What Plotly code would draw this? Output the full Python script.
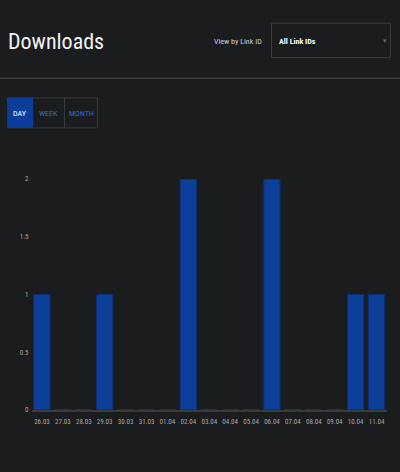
import plotly.graph_objects as go

categories = ["26.03", "27.03", "28.03", "29.03", "30.03", "31.03", "01.04", "02.04", "03.04",
              "04.04", "05.04", "06.04", "07.04", "08.04", "09.04", "10.04", "11.04"]
downloads = [1, 0, 0, 1, 0, 0, 0, 2, 0, 0, 0, 2, 0, 0, 0, 1, 1]
y_ticks = [0, 0.5, 1, 1.5, 2]
y_tick_labels = ["0", "0.5", "1", "1.5", "2"]
period_buttons = ["DAY", "WEEK", "MONTH"]

W, H = 400, 472
BG = "#1b1c1e"
BAR = "#0b3f99"
BAR_EDGE = "#0a2f70"
FONT = "Roboto Condensed, Liberation Sans Narrow, Arial Narrow, Roboto, sans-serif"

def px(x):
    return x / W

def py(y):
    return 1 - y / H

fig = go.Figure()

# minimal visible bar (baseline stub) like the source chart's min bar height
fig.add_trace(go.Bar(
    x=categories, y=[0.008] * len(categories), marker=dict(color=BAR, line=dict(width=0)),
    hoverinfo="skip", showlegend=False,
))
fig.add_trace(go.Bar(
    x=categories, y=downloads, marker=dict(color=BAR, line=dict(color=BAR_EDGE, width=1)),
    showlegend=False,
))

shapes = []
annotations = []

# header
annotations.append(dict(text="Downloads", x=px(6), y=py(38), xref="paper", yref="paper",
                        xanchor="left", yanchor="middle", showarrow=False,
                        font=dict(family=FONT, size=22, color="#f2f2f2")))
annotations.append(dict(text="View by Link ID", x=px(264), y=py(38), xref="paper", yref="paper",
                        xanchor="right", yanchor="middle", showarrow=False,
                        font=dict(family=FONT, size=8, color="#cfcfcf")))
shapes.append(dict(type="rect", xref="paper", yref="paper", x0=px(271.5), x1=px(390.5),
                   y0=py(54.5), y1=py(19.5), line=dict(color="#3c3d40", width=1), fillcolor=BG))
annotations.append(dict(text="<b>All Link IDs</b>", x=px(277), y=py(38), xref="paper", yref="paper",
                        xanchor="left", yanchor="middle", showarrow=False,
                        font=dict(family=FONT, size=8, color="#ffffff")))
annotations.append(dict(text="▾", x=px(385), y=py(38), xref="paper", yref="paper",
                        xanchor="center", yanchor="middle", showarrow=False,
                        font=dict(family=FONT, size=7, color="#6a6a6a")))
shapes.append(dict(type="line", xref="paper", yref="paper", x0=0, x1=1, y0=py(75.5), y1=py(75.5),
                   line=dict(color="#3a3b3e", width=1.5)))

# period buttons
edges = [7, 33, 64, 98]
shapes.append(dict(type="rect", xref="paper", yref="paper", x0=px(7.5), x1=px(97.5),
                   y0=py(126), y1=py(95.5), line=dict(color="#37383b", width=1), fillcolor=BG))
shapes.append(dict(type="rect", xref="paper", yref="paper", x0=px(7.5), x1=px(33),
                   y0=py(126), y1=py(95.5), line=dict(width=0), fillcolor="#0a3d99"))
shapes.append(dict(type="line", xref="paper", yref="paper", x0=px(64.5), x1=px(64.5),
                   y0=py(126), y1=py(95.5), line=dict(color="#37383b", width=1)))
for i, name in enumerate(period_buttons):
    cx = (edges[i] + edges[i + 1]) / 2
    annotations.append(dict(text=name, x=px(cx), y=py(111), xref="paper", yref="paper",
                            xanchor="center", yanchor="middle", showarrow=False,
                            font=dict(family=FONT, size=8,
                                      color="#ffffff" if i == 0 else "#2f6ad0")))

fig.update_layout(
    width=W, height=H,
    margin=dict(l=0, r=0, t=0, b=0),
    paper_bgcolor=BG, plot_bgcolor=BG,
    barmode="overlay",
    bargap=0.22,
    shapes=shapes,
    annotations=annotations,
    xaxis=dict(domain=[px(31.5), px(387)], showgrid=False, zeroline=False,
               showline=True, linecolor="#3a3b3e", linewidth=2,
               tickfont=dict(family=FONT, size=7, color="#a8a8a8"), ticks="",
               ticklabelstandoff=4, tickangle=0, fixedrange=True),
    yaxis=dict(domain=[1 - 413 / H, 1 - 178 / H], range=[0, 2], showgrid=False, zeroline=False,
               showline=False, tickvals=y_ticks, ticktext=y_tick_labels, ticks="",
               tickfont=dict(family=FONT, size=7, color="#a8a8a8"), ticklabelstandoff=2,
               fixedrange=True),
    font=dict(family=FONT),
)

fig.write_html("out.html")
